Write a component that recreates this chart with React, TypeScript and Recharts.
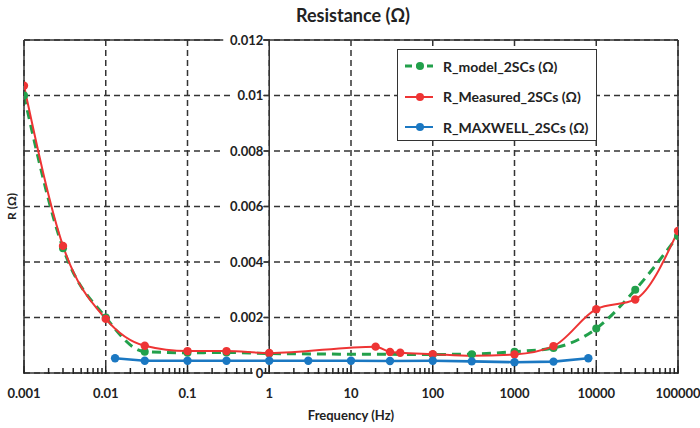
import React from 'react';
import { LineChart, Line, XAxis, YAxis, CartesianGrid, ReferenceLine, Legend } from 'recharts';

// ---------- data ----------
const modelFreq = [0.001, 0.003, 0.01, 0.03, 0.1, 0.3, 1, 100, 300, 1000, 3000, 10000, 30000, 100000];
const modelR = [0.0100, 0.0045, 0.0020, 0.00077, 0.00073, 0.00074, 0.00070, 0.00067, 0.00068, 0.00077, 0.00090, 0.00160, 0.00300, 0.00494];

const measuredFreq = [0.001, 0.003, 0.01, 0.03, 0.1, 0.3, 1, 20, 30, 40, 100, 300, 1000, 3000, 10000, 30000, 100000];
const measuredR = [0.01035, 0.00458, 0.00195, 0.00098, 0.00079, 0.00079, 0.00072, 0.00095, 0.00076, 0.00073, 0.00068, 0.00062, 0.00067, 0.00097, 0.00230, 0.00265, 0.00512];
const measuredNoMarker = [300];

const maxwellFreq = [0.013, 0.03, 0.1, 0.3, 1, 3, 10, 30, 100, 300, 1000, 3000, 8000];
const maxwellR = [0.00053, 0.00044, 0.00044, 0.00044, 0.00044, 0.00044, 0.00044, 0.00043, 0.00044, 0.00042, 0.00039, 0.00041, 0.00053];

const xMajorTicks = [0.001, 0.01, 0.1, 1, 10, 100, 1000, 10000, 100000];
const xTickLabels = ['0.001', '0.01', '0.1', '1', '10', '100', '1000', '10000', '100000'];
const xMinorMultipliers = [2, 3, 4, 5, 6, 7, 8, 9];
const yTicks = [0, 0.002, 0.004, 0.006, 0.008, 0.01, 0.012];
const yTickLabels = ['0', '0.002', '0.004', '0.006', '0.008', '0.01', '0.012'];

const seriesNames = ['R_model_2SCs (Ω)', 'R_Measured_2SCs (Ω)', 'R_MAXWELL_2SCs (Ω)'];

const modelData = modelFreq.map((f, i) => ({ f, r: modelR[i] }));
const measuredData = measuredFreq.map((f, i) => ({ f, r: measuredR[i] }));
const maxwellData = maxwellFreq.map((f, i) => ({ f, r: maxwellR[i] }));

// ---------- layout ----------
const W = 700;
const H = 428;
const M = { top: 40, right: 22, bottom: 0, left: 23 };
const Y_AXIS_W = 1;
const X_AXIS_H = 55;
const PLOT_LEFT = M.left + Y_AXIS_W;
const PLOT_RIGHT = W - M.right;
const FONT = "Lato, 'Open Sans', 'DejaVu Sans', sans-serif";
const TEXT = '#222';
const GRID = '#333';

const GREEN = '#22A04B';
const RED = '#EE3434';
const BLUE = '#1B78C2';

const logMin = Math.log10(xMajorTicks[0]);
const logMax = Math.log10(xMajorTicks[xMajorTicks.length - 1]);
const decadePx = (PLOT_RIGHT - PLOT_LEFT) / (logMax - logMin);
const yAxisShift = decadePx * (Math.log10(1) - logMin);

const XTick = (props: any) => {
  const { x, y, payload, index } = props;
  const v = payload.value;
  const idx = xMajorTicks.findIndex((m) => Math.abs(m - v) / m < 1e-6);
  const last = idx === xMajorTicks.length - 1;
  return (
    <g>
      <line x1={x} x2={x} y1={y - 7} y2={y + 1} stroke="#222" strokeWidth={1.5} />
      {!last &&
        xMinorMultipliers.map((k) => {
          const mx = x + Math.log10(k) * decadePx;
          return <line key={`m${index}-${k}`} x1={mx} x2={mx} y1={y - 5} y2={y + 1} stroke="#222" strokeWidth={1.5} />;
        })}
      <text x={x} y={y + 25} textAnchor="middle" fontFamily={FONT} fontWeight={700} fontSize={13} fill={TEXT}>
        {xTickLabels[idx]}
      </text>
    </g>
  );
};

const YTick = (props: any) => {
  const { x, y, index } = props;
  const ax = x + yAxisShift;
  const label = yTickLabels[index] ?? '';
  const w = label.length * 7.4 + 2;
  return (
    <g>
      <rect x={ax - 7 - w} y={y - 8} width={w + 1} height={16} fill="#fff" />
      <line x1={ax - 6} x2={ax} y1={y} y2={y} stroke="#333" strokeWidth={1.3} />
      <text x={ax - 6} y={y + 4.5} textAnchor="end" fontFamily={FONT} fontWeight={700} fontSize={13} fill={TEXT}>
        {label}
      </text>
    </g>
  );
};

const LegendBox = (props: any) => {
  const payload = [...(props.payload || [])].sort(
    (a: any, b: any) => seriesNames.indexOf(a.value) - seriesNames.indexOf(b.value)
  );
  return (
    <div
      style={{
        width: 200,
        height: 92,
        boxSizing: 'border-box',
        border: '1.5px solid #333',
        background: '#fff',
        padding: '1px 0 0 7px',
        fontFamily: FONT,
        fontWeight: 700,
        fontSize: 14,
        color: TEXT,
      }}
    >
      {payload.map((e: any, i: number) => {
        const dash = e.payload && e.payload.strokeDasharray;
        return (
          <div key={i} style={{ height: 30.5, display: 'flex', alignItems: 'center' }}>
            <svg width={30} height={12} style={{ marginRight: 8, flex: 'none' }}>
              <line x1={0} x2={28} y1={6} y2={6} stroke={e.color} strokeWidth={dash ? 3 : 2} strokeDasharray={dash ? '7 4' : undefined} />
              <circle cx={15} cy={6} r={4} fill={e.color} />
            </svg>
            <span style={{ whiteSpace: 'nowrap' }}>{e.value}</span>
          </div>
        );
      })}
    </div>
  );
};

const redDot = (p: any) => {
  const { cx, cy, payload, index } = p;
  if (measuredNoMarker.includes(payload.f)) return <g key={`rd${index}`} />;
  return <circle key={`rd${index}`} cx={cx} cy={cy} r={4.2} fill={RED} />;
};

export default function App() {
  return (
    <div style={{ position: 'absolute', left: 0, top: 0, width: W, height: H, background: '#fff' }}>
      <div
        style={{
          position: 'absolute',
          left: 0,
          top: 4,
          width: W + 6,
          textAlign: 'center',
          fontFamily: FONT,
          fontWeight: 700,
          fontSize: 18,
          color: TEXT,
        }}
      >
        Resistance (Ω)
      </div>
      <LineChart width={W} height={H} margin={M}>
        <CartesianGrid
          horizontal={true}
          vertical={true}
          verticalValues={xMajorTicks}
          horizontalValues={yTicks}
          stroke={GRID}
          strokeWidth={1.5}
          strokeDasharray="6 4"
        />
        <XAxis
          type="number"
          dataKey="f"
          scale="log"
          domain={[xMajorTicks[0], xMajorTicks[xMajorTicks.length - 1]]}
          ticks={xMajorTicks}
          interval={0}
          allowDataOverflow
          height={X_AXIS_H}
          tickSize={0}
          tickMargin={0}
          tickLine={false}
          tick={<XTick />}
          axisLine={{ stroke: '#333', strokeWidth: 1.5 }}
          label={{ value: 'Frequency (Hz)', position: 'insideBottom', offset: 8, fontFamily: FONT, fontWeight: 700, fontSize: 13, fill: TEXT }}
        />
        <YAxis
          type="number"
          domain={[yTicks[0], yTicks[yTicks.length - 1]]}
          ticks={yTicks}
          interval={0}
          width={Y_AXIS_W}
          tickSize={0}
          tickMargin={0}
          tickLine={false}
          tick={<YTick />}
          axisLine={{ stroke: '#333', strokeWidth: 1.5 }}
          label={{
            content: (p: any) => {
              const vb = p.viewBox || {};
              const cy = (vb.y || 0) + (vb.height || 0) / 2;
              const cx = 11;
              return (
                <text x={cx} y={cy} transform={`rotate(-90 ${cx} ${cy})`} textAnchor="middle" dominantBaseline="central" fontFamily={FONT} fontWeight={700} fontSize={12} fill={TEXT}>
                  R (Ω)
                </text>
              );
            },
          }}
        />
        <ReferenceLine x={1} stroke="#333" strokeWidth={1.5} />
        <ReferenceLine x={xMajorTicks[xMajorTicks.length - 1]} stroke="#333" strokeWidth={1.5} />
        <ReferenceLine y={yTicks[yTicks.length - 1]} stroke="#333" strokeWidth={1.5} />
        <Legend
          layout="horizontal"
          verticalAlign="middle"
          align="center"
          content={<LegendBox />}
          wrapperStyle={{ position: 'absolute', left: 397, top: 49, width: 200, height: 92 }}
        />
        <Line
          data={modelData}
          dataKey="r"
          name={seriesNames[0]}
          type="monotone"
          stroke={GREEN}
          strokeWidth={3}
          strokeDasharray="9 6"
          dot={{ r: 4, fill: GREEN, stroke: 'none', strokeDasharray: '' }}
          activeDot={false}
          isAnimationActive={false}
        />
        <Line
          data={measuredData}
          dataKey="r"
          name={seriesNames[1]}
          type="monotone"
          stroke={RED}
          strokeWidth={2}
          dot={redDot}
          activeDot={false}
          isAnimationActive={false}
        />
        <Line
          data={maxwellData}
          dataKey="r"
          name={seriesNames[2]}
          type="linear"
          stroke={BLUE}
          strokeWidth={2.6}
          dot={{ r: 4.2, fill: BLUE, stroke: 'none' }}
          activeDot={false}
          isAnimationActive={false}
        />
      </LineChart>
    </div>
  );
}
